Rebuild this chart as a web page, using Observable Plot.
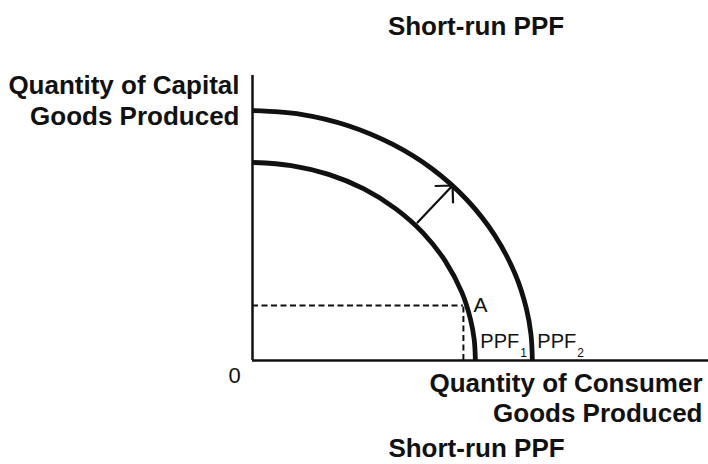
<!DOCTYPE html>
<html><head><meta charset="utf-8">
<script src="https://cdn.jsdelivr.net/npm/d3@7"></script>
<script src="https://cdn.jsdelivr.net/npm/@observablehq/plot@0.6"></script>
<style>
html,body{margin:0;padding:0;background:#fff;}
#chart svg{display:block;}
</style></head><body><div id="chart"></div>
<script>
// Data (arbitrary units)
const ppf1X = [0, 1.36, 2.67, 3.91, 5.03, 5.99, 6.77, 7.35, 7.65, 7.78, 7.82];
const ppf1Y = [6.95, 6.84, 6.53, 6.02, 5.32, 4.47, 3.48, 2.38, 1.44, 0.73, 0];
const ppf2X = [0, 1.70, 3.36, 4.91, 6.31, 7.52, 8.50, 9.23, 9.61, 9.77, 9.82];
const ppf2Y = [8.77, 8.64, 8.24, 7.59, 6.72, 5.64, 4.39, 3.00, 1.82, 0.92, 0];
const pointA = {x: 7.40, y: 1.93, label: "A"};
const shiftArrow = {x1: 5.79, y1: 4.84, x2: 7.02, y2: 6.14};
const curveNames = ["PPF", "PPF"];
const curveSubs = ["1", "2"];
const titleText = "Short-run PPF";
const yLabel = "Quantity of Capital\nGoods Produced";
const xLabel = "Quantity of Consumer\nGoods Produced";
const originLabel = "0";

const ppf1 = ppf1X.map((x, i) => ({x, y: ppf1Y[i]}));
const ppf2 = ppf2X.map((x, i) => ({x, y: ppf2Y[i]}));
const curveLabels = [
  {x: ppf1X[ppf1X.length - 1], name: curveNames[0], sub: curveSubs[0]},
  {x: ppf2X[ppf2X.length - 1], name: curveNames[1], sub: curveSubs[1]}
];

const ink = "#111";
const chart = Plot.plot({
  width: 708,
  height: 464,
  marginLeft: 252,
  marginRight: 0,
  marginTop: 75,
  marginBottom: 104,
  x: {domain: [0, 16], axis: null},
  y: {domain: [0, 10], axis: null},
  style: {fontFamily: "'Liberation Sans', Arial, Helvetica, sans-serif", background: "#fff", color: ink},
  marks: [
    Plot.ruleX([0], {stroke: ink, strokeWidth: 2.5}),
    Plot.ruleY([0], {stroke: ink, strokeWidth: 2.5}),
    Plot.ruleY([pointA], {y: "y", x1: 0, x2: "x", stroke: ink, strokeWidth: 2, strokeDasharray: "6,3.5"}),
    Plot.ruleX([pointA], {x: "x", y1: 0, y2: "y", stroke: ink, strokeWidth: 2, strokeDasharray: "6,3.5"}),
    Plot.line(ppf1, {x: "x", y: "y", curve: "catmull-rom", stroke: ink, strokeWidth: 4.8, strokeLinecap: "butt"}),
    Plot.line(ppf2, {x: "x", y: "y", curve: "catmull-rom", stroke: ink, strokeWidth: 4.8, strokeLinecap: "butt"}),
    Plot.arrow([shiftArrow], {x1: "x1", y1: "y1", x2: "x2", y2: "y2", stroke: ink, strokeWidth: 2.2, headAngle: 90, headLength: 17}),
    Plot.text([pointA], {x: "x", y: "y", text: "label", fill: ink, textAnchor: "start", lineAnchor: "bottom", dx: 10, dy: 7, fontSize: 21}),
    Plot.text(curveLabels, {x: "x", y: 0, text: "name", fill: ink, textAnchor: "start", lineAnchor: "bottom", dx: 5, dy: -13, fontSize: 20}),
    Plot.text(curveLabels, {x: "x", y: 0, text: "sub", fill: ink, textAnchor: "start", lineAnchor: "bottom", dx: 45, dy: -4, fontSize: 12}),
    Plot.text([originLabel], {frameAnchor: "bottom-left", fill: ink, textAnchor: "middle", lineAnchor: "top", dx: -18, dy: 7, fontSize: 22}),
    Plot.text([yLabel], {frameAnchor: "top-left", fill: ink, textAnchor: "end", lineAnchor: "top", dx: -13, dy: -3, fontSize: 26, fontWeight: "bold", lineHeight: 1.19}),
    Plot.text([xLabel], {frameAnchor: "bottom-right", fill: ink, textAnchor: "end", lineAnchor: "top", dx: -6, dy: 10, fontSize: 26, fontWeight: "bold", lineHeight: 1.15}),
    Plot.text([titleText], {frameAnchor: "top", fill: ink, textAnchor: "middle", lineAnchor: "top", dx: -4.5, dy: -59, fontSize: 26, fontWeight: "bold"}),
    Plot.text([titleText], {frameAnchor: "bottom", fill: ink, textAnchor: "middle", lineAnchor: "top", dx: -4, dy: 78, fontSize: 26, fontWeight: "bold"})
  ]
});
document.getElementById("chart").appendChild(chart);
</script>
</body></html>
